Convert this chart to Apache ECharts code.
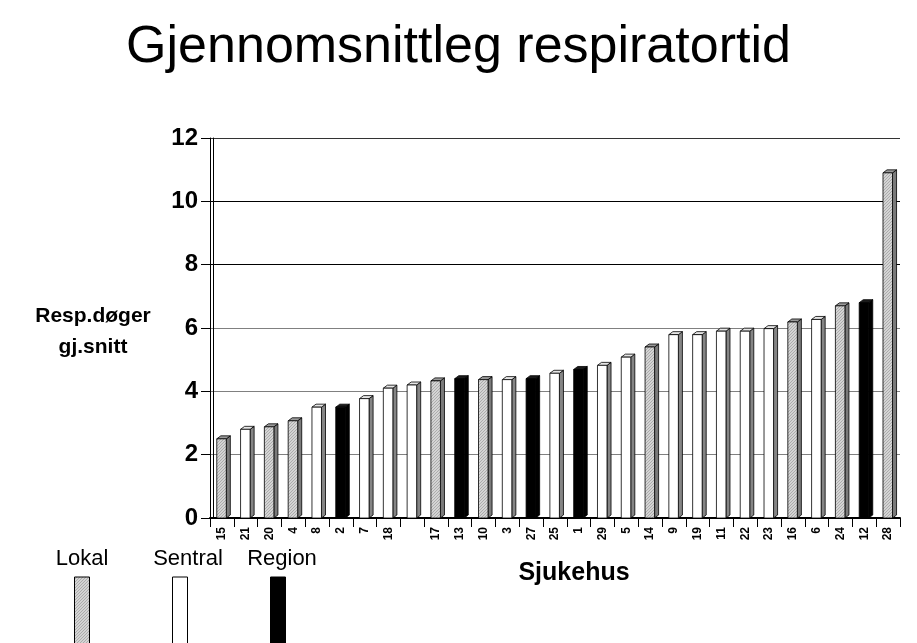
<!DOCTYPE html>
<html>
<head>
<meta charset="utf-8">
<script src="https://cdn.jsdelivr.net/npm/echarts@6/dist/echarts.min.js"></script>
<style>
html,body{margin:0;padding:0;background:#fff;}
#chart{width:917px;height:643px;}
</style>
</head>
<body>
<div id="chart"></div>
<script>
// ---- data ----
const categories = ['15','21','20','4','8','2','7','18','','17','13','10','3','27','25','1','29','5','14','9','19','11','22','23','16','6','24','12','28'];
const values = [2.5,2.8,2.88,3.07,3.5,3.5,3.77,4.1,4.2,4.33,4.4,4.37,4.37,4.4,4.57,4.69,4.82,5.08,5.4,5.79,5.79,5.9,5.9,5.98,6.19,6.27,6.7,6.8,10.9];
// L = Lokal, S = Sentral, R = Region
const types = ['L','S','L','L','S','R','S','S','S','L','R','L','S','R','S','R','S','S','L','S','S','S','S','S','L','S','L','R','L'];
const yTicks = [0,2,4,6,8,10,12];
const legendNames = {L:'Lokal', S:'Sentral', R:'Region'};

// fine hatched pattern for Lokal
function makeHatch(){
  const c = document.createElement('canvas');
  c.width = 3; c.height = 3;
  const g = c.getContext('2d');
  g.fillStyle = '#d4d4d4'; g.fillRect(0,0,3,3);
  g.fillStyle = '#ababab';
  for (let i=0;i<3;i++){ g.fillRect(i,(2-i),1,1); }
  return {image: c, repeat: 'repeat'};
}
const hatch = makeHatch();
const styles = {
  L: {front: hatch, side: '#7a7a7a', top: '#9a9a9a'},
  S: {front: '#ffffff', side: '#858585', top: '#e6e6e6'},
  R: {front: '#000000', side: '#000000', top: '#1a1a1a'}
};

const chart = echarts.init(document.getElementById('chart'), null, {renderer:'canvas'});

function renderBar(params, api){
  const idx = api.value(0);
  const v = api.value(1);
  const t = types[idx];
  const st = styles[t];
  const top = api.coord([idx, v]);
  const bot = api.coord([idx, 0]);
  const bw = api.size([1,0])[0];
  const w = bw*0.40;
  const x0 = top[0] - bw*0.215;
  const x1 = x0 + w;
  const dx = bw*0.17, dy = 3;
  const yT = top[1], yB = bot[1];
  const line = {stroke:'#000', lineWidth:0.8};
  return {
    type:'group',
    children:[
      {type:'polygon', shape:{points:[[x1,yT],[x1+dx,yT-dy],[x1+dx,yB-dy],[x1,yB]]}, style:Object.assign({fill:st.side}, line)},
      {type:'polygon', shape:{points:[[x0,yT],[x1,yT],[x1+dx,yT-dy],[x0+dx,yT-dy]]}, style:Object.assign({fill:st.top}, line)},
      {type:'rect', shape:{x:x0, y:yT, width:w, height:yB-yT}, style:Object.assign({fill:st.front}, line)}
    ]
  };
}

const swatchX = {L:82, S:180, R:278};
const textX = {L:82, S:188, R:282};
const legendGraphics = [];
['L','S','R'].forEach(k=>{
  legendGraphics.push({type:'text', x: textX[k], y:548,
    style:{text:legendNames[k], font:'22px "Liberation Sans", Arial, sans-serif', fill:'#000', align:'center', verticalAlign:'top'}});
  legendGraphics.push({type:'rect', shape:{x:swatchX[k]-7.5, y:577, width:15, height:70},
    style:{fill: styles[k].front, stroke:'#000', lineWidth:1}});
});

const option = {
  backgroundColor:'#fff',
  animation:false,
  title:[
    {text:'Gjennomsnittleg respiratortid', left:'center', top:17,
     textStyle:{fontFamily:'"Liberation Sans", Arial, sans-serif', fontSize:52, fontWeight:'normal', color:'#000'}},
    {text:'Resp.døger\ngj.snitt', left:88, top:296, textAlign:'center',
     textStyle:{fontFamily:'"Liberation Sans", Arial, sans-serif', fontSize:21, fontWeight:'bold', color:'#000', lineHeight:31}},
    {text:'Sjukehus', left:569, top:556, textAlign:'center',
     textStyle:{fontFamily:'"Liberation Sans", Arial, sans-serif', fontSize:25, fontWeight:'bold', color:'#000'}}
  ],
  grid:{left:210, right:17, top:138, bottom:125, containLabel:false},
  xAxis:{
    type:'category', data:categories, boundaryGap:true,
    axisLine:{lineStyle:{color:'#000', width:2}},
    axisTick:{show:true, length:9, interval:0, alignWithLabel:false, lineStyle:{color:'#000', width:1}},
    axisLabel:{interval:0, rotate:90, margin:9, fontSize:12, fontWeight:'bold', color:'#000', fontFamily:'"Liberation Sans", Arial, sans-serif'}
  },
  yAxis:{
    type:'value', min:yTicks[0], max:yTicks[yTicks.length-1], interval:2,
    axisLine:{show:true, lineStyle:{color:'#000', width:1, shadowColor:'#000', shadowOffsetX:3, shadowBlur:0}},
    axisTick:{show:true, length:9, lineStyle:{color:'#000'}},
    axisLabel:{margin:12, fontSize:24, fontWeight:'bold', color:'#000', fontFamily:'"Liberation Sans", Arial, sans-serif'},
    splitLine:{show:true, lineStyle:{color:['#000','#808080','#808080','#808080','#000','#000','#333'], width:1}}
  },
  series:[{
    type:'custom', renderItem:renderBar,
    data: values.map((v,i)=>[i,v]),
    encode:{x:0, y:1}, clip:false, z:5
  }],
  graphic: legendGraphics
};
chart.setOption(option);
</script>
</body>
</html>
